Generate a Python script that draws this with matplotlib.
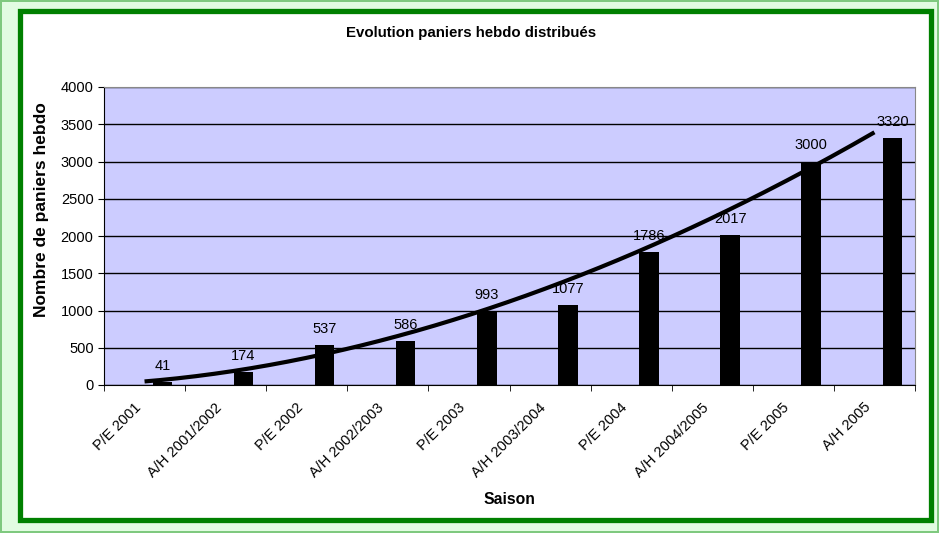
import numpy as np
import matplotlib.pyplot as plt
from matplotlib.patches import Rectangle
from matplotlib.transforms import ScaledTranslation

saisons = ['P/E 2001', 'A/H 2001/2002', 'P/E 2002', 'A/H 2002/2003', 'P/E 2003',
           'A/H 2003/2004', 'P/E 2004', 'A/H 2004/2005', 'P/E 2005', 'A/H 2005']
paniers = [41, 174, 537, 586, 993, 1077, 1786, 2017, 3000, 3320]

plt.rcParams['font.family'] = ['Liberation Sans', 'DejaVu Sans']

fig = plt.figure(figsize=(9.39, 5.33), dpi=100, facecolor='#e2fce2',
                 edgecolor='#7fc97f', linewidth=1.5)

# white panel with green frame
fig.patches.append(Rectangle((20 / 939, 1 - 519.5 / 533), 910.5 / 939, 508.5 / 533,
                             transform=fig.transFigure, facecolor='white',
                             edgecolor='#008000', linewidth=3.8, zorder=-10))

ax = fig.add_axes([104 / 939, 1 - 385 / 533, 811 / 939, 298 / 533])
ax.set_facecolor('#ccccff')

x = np.arange(len(saisons))
bx = x + 0.22
ax.bar(bx, paniers, width=0.24, color='black', zorder=3)

for xi, v in zip(bx, paniers):
    ax.annotate(str(v), (xi, v), xytext=(0, 6.5), textcoords='offset points',
                ha='center', va='bottom', fontsize=10.5, zorder=5)

# power trendline (y = a * n^b), fitted on the data like the spreadsheet did
b, lna = np.polyfit(np.log(x + 1), np.log(paniers), 1)
xs = np.linspace(0, len(saisons) - 1, 200)
ax.plot(xs, np.exp(lna) * (xs + 1) ** b, color='black', linewidth=3,
        solid_capstyle='butt', zorder=4)

ax.set_xlim(-0.5, len(saisons) - 0.5)
ax.set_ylim(0, 4000)
ax.set_yticks(np.arange(0, 4001, 500))
ax.yaxis.grid(True, color='black', linewidth=1.0)
ax.set_axisbelow(True)

ax.set_xticks(x)
ax.set_xticklabels(saisons, rotation=45, ha='right', rotation_mode='anchor', fontsize=10.5)
ax.set_xticks(np.arange(-0.5, len(saisons)), minor=True)
ax.tick_params(axis='x', which='major', length=0, pad=11)
ax.tick_params(axis='x', which='minor', length=4.5, color='black')
ax.tick_params(axis='y', length=4.5, labelsize=10.5, color='black', pad=3)

# rotated labels sit a little left of the category centre
shift = ScaledTranslation(-0.11, 0, fig.dpi_scale_trans)
for lbl in ax.get_xticklabels():
    lbl.set_transform(lbl.get_transform() + shift)

for s in ['top', 'right']:
    ax.spines[s].set_color('#888888')
for s in ['left', 'bottom']:
    ax.spines[s].set_color('black')

ax.set_ylabel('Nombre de paniers hebdo', fontsize=12.5, fontweight='bold')
ax.yaxis.set_label_coords(-0.068, 0.587)
ax.set_xlabel('Saison', fontsize=11.3, fontweight='bold')
ax.xaxis.set_label_coords(0.5, -0.36)
fig.text(471 / 939, 1 - 33 / 533, 'Evolution paniers hebdo distribués', ha='center', va='center',
         fontsize=10.8, fontweight='bold')

fig.savefig('out.png', dpi=100, facecolor=fig.get_facecolor(), edgecolor=fig.get_edgecolor())
